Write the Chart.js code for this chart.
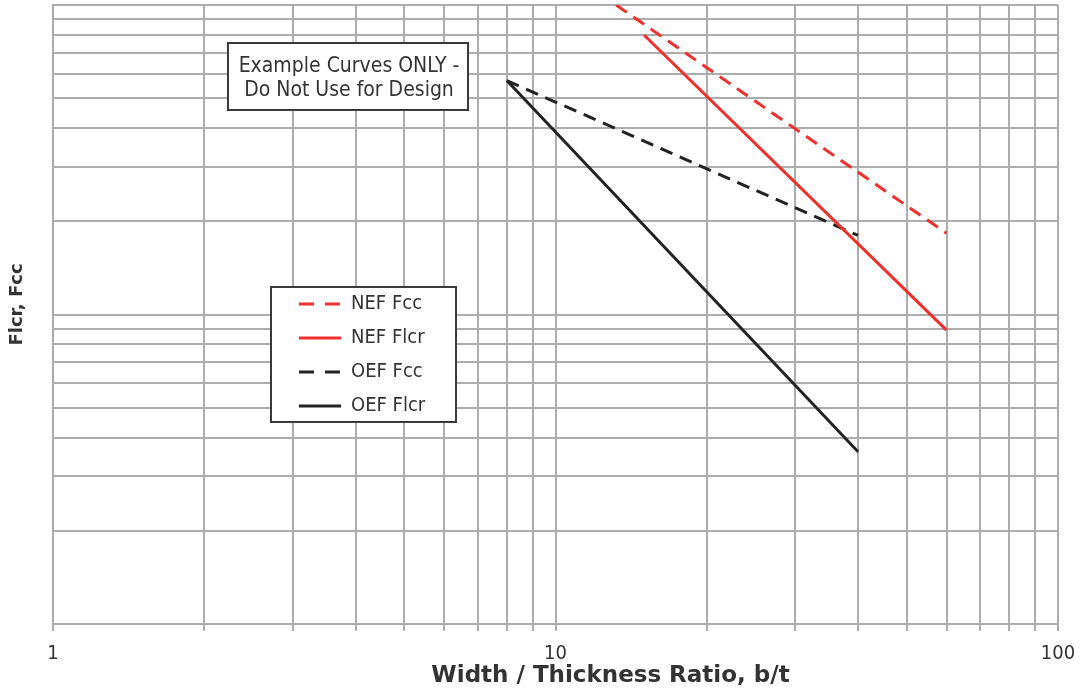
<!DOCTYPE html>
<html>
<head>
<meta charset="utf-8">
<script src="https://cdn.jsdelivr.net/npm/chart.js@4.4.1/dist/chart.umd.min.js"></script>
<style>
html,body{margin:0;padding:0;background:#fff;}
#wrap{position:relative;width:1081px;height:689px;}
</style>
</head>
<body>
<div id="wrap"><canvas id="c" width="1081" height="689"></canvas></div>
<script>
// ---- data ----
const seriesNames = ['NEF Fcc', 'NEF Flcr', 'OEF Fcc', 'OEF Flcr'];
const nefFccX  = [13.2, 60];
const nefFccY  = [100, 18.3];
const nefFlcrX = [15, 60];
const nefFlcrY = [80, 8.9];
const oefFccX  = [8, 40];
const oefFccY  = [57, 18];
const oefFlcrX = [8, 40];
const oefFlcrY = [57, 3.6];
const xTickLabels = [1, 10, 100];
const xRange = [1, 100];
const yRange = [1, 100];
const xTitle = 'Width / Thickness Ratio, b/t';
const yTitle = 'Flcr, Fcc';
const noteLines = ['Example Curves ONLY -', 'Do Not Use for Design'];

const RED = '#ef2f2b';
const BLACK = '#222222';
const GRID = '#adadad';
const TXT = '#333333';
const FONT = '"DejaVu Sans Condensed", "DejaVu Sans", sans-serif';
const LINE_DASH = [13, 8];
const LEGEND_DASH = [15, 11];

function pts(xs, ys) { return xs.map((x, i) => ({x: x, y: ys[i]})); }

// keep only 1..9 x 10^n ticks (drop the 15-step that Chart.js may add)
function cleanLogTicks(scale) {
  scale.ticks = scale.ticks.filter(t => {
    const e = Math.floor(Math.log10(t.value) + 1e-9);
    const s = t.value / Math.pow(10, e);
    return Math.abs(s - Math.round(s)) < 1e-6;
  });
}

// shift an axis title drawn by Chart.js by (dx, dy)
function shiftTitle(scale, dx, dy) {
  if (scale._titleShifted) return;
  const orig = scale.drawTitle;
  scale.drawTitle = function() {
    const l = this.left, r = this.right, t = this.top, b = this.bottom;
    this.left += dx; this.right += dx; this.top += dy; this.bottom += dy;
    orig.apply(this, arguments);
    this.left = l; this.right = r; this.top = t; this.bottom = b;
  };
  scale._titleShifted = true;
}

const layoutTweaks = {
  id: 'layoutTweaks',
  afterLayout(chart) {
    shiftTitle(chart.scales.x, 55, 0);
    shiftTitle(chart.scales.y, 0, -10);
    const lg = chart.legend;
    if (!lg) return;
    const w = lg.width, h = lg.height;
    lg.left = 285; lg.top = 280; lg.right = lg.left + w; lg.bottom = lg.top + h;
    if (!lg._boxWrapped) {
      const orig = lg.draw;
      lg.draw = function() {
        const ctx = this.ctx;
        ctx.save();
        ctx.fillStyle = '#ffffff';
        ctx.fillRect(271, 287, 185, 135);
        ctx.strokeStyle = '#3a3a3a';
        ctx.lineWidth = 2;
        ctx.strokeRect(271, 287, 185, 135);
        ctx.restore();
        return orig.apply(this, arguments);
      };
      lg._boxWrapped = true;
    }
  }
};

const notePlugin = {
  id: 'note',
  afterDraw(chart) {
    const ctx = chart.ctx;
    ctx.save();
    ctx.fillStyle = '#ffffff';
    ctx.fillRect(228, 43, 240, 67);
    ctx.strokeStyle = '#3a3a3a';
    ctx.lineWidth = 2;
    ctx.strokeRect(228, 43, 240, 67);
    ctx.fillStyle = TXT;
    ctx.font = '21px ' + FONT;
    ctx.textAlign = 'center';
    ctx.textBaseline = 'middle';
    ctx.fillText(noteLines[0], 349, 67);
    ctx.fillText(noteLines[1], 349, 91);
    ctx.restore();
  }
};

new Chart(document.getElementById('c'), {
  type: 'scatter',
  data: {
    datasets: [
      {label: seriesNames[0], data: pts(nefFccX, nefFccY), borderColor: RED, backgroundColor: RED, borderDash: LINE_DASH},
      {label: seriesNames[1], data: pts(nefFlcrX, nefFlcrY), borderColor: RED, backgroundColor: RED},
      {label: seriesNames[2], data: pts(oefFccX, oefFccY), borderColor: BLACK, backgroundColor: BLACK, borderDash: LINE_DASH},
      {label: seriesNames[3], data: pts(oefFlcrX, oefFlcrY), borderColor: BLACK, backgroundColor: BLACK}
    ].map(d => Object.assign(d, {showLine: true, pointRadius: 0, pointHoverRadius: 0, borderWidth: 3, fill: false, tension: 0}))
  },
  options: {
    responsive: false,
    animation: false,
    layout: {padding: {top: 5, right: 23, left: 0, bottom: 0}},
    plugins: {
      tooltip: {enabled: false},
      legend: {
        position: 'chartArea',
        align: 'start',
        labels: {
          usePointStyle: true,
          pointStyle: 'line',
          pointStyleWidth: 42,
          padding: 14,
          color: TXT,
          font: {family: FONT, size: 20},
          generateLabels(chart) {
            const items = Chart.defaults.plugins.legend.labels.generateLabels(chart);
            return items.map(it => {
              const ds = chart.data.datasets[it.datasetIndex];
              it.lineDash = ds.borderDash ? LEGEND_DASH : [];
              it.lineWidth = 3;
              it.strokeStyle = ds.borderColor;
              it.fillStyle = ds.borderColor;
              it.pointStyle = 'line';
              return it;
            });
          }
        }
      }
    },
    scales: {
      x: {
        type: 'logarithmic',
        min: xRange[0], max: xRange[1],
        afterBuildTicks: cleanLogTicks,
        afterFit: s => { s.height = 65; },
        grid: {color: GRID, lineWidth: 2, drawTicks: true, tickLength: 7, tickColor: GRID},
        border: {display: true, color: GRID, width: 2},
        ticks: {
          autoSkip: false, maxRotation: 0, padding: 3, color: TXT,
          font: {family: FONT, size: 20, lineHeight: 2.0},
          callback: v => xTickLabels.some(t => Math.abs(t - v) < 1e-9) ? String(v) : ''
        },
        title: {display: true, text: xTitle, color: TXT, padding: {top: 0, bottom: 0},
                font: {family: '"DejaVu Sans", sans-serif', size: 23, weight: 'bold', lineHeight: 1.1}}
      },
      y: {
        type: 'logarithmic',
        min: yRange[0], max: yRange[1],
        afterBuildTicks: cleanLogTicks,
        afterFit: s => { s.width = 53; },
        grid: {color: GRID, lineWidth: 2, drawTicks: false},
        border: {display: true, color: GRID, width: 2},
        ticks: {display: false},
        title: {display: true, text: yTitle, color: TXT, padding: {top: 7, bottom: 0},
                font: {family: '"DejaVu Sans", sans-serif', size: 18, weight: 'bold', lineHeight: 1.2}}
      }
    }
  },
  plugins: [layoutTweaks, notePlugin]
});
</script>
</body>
</html>
